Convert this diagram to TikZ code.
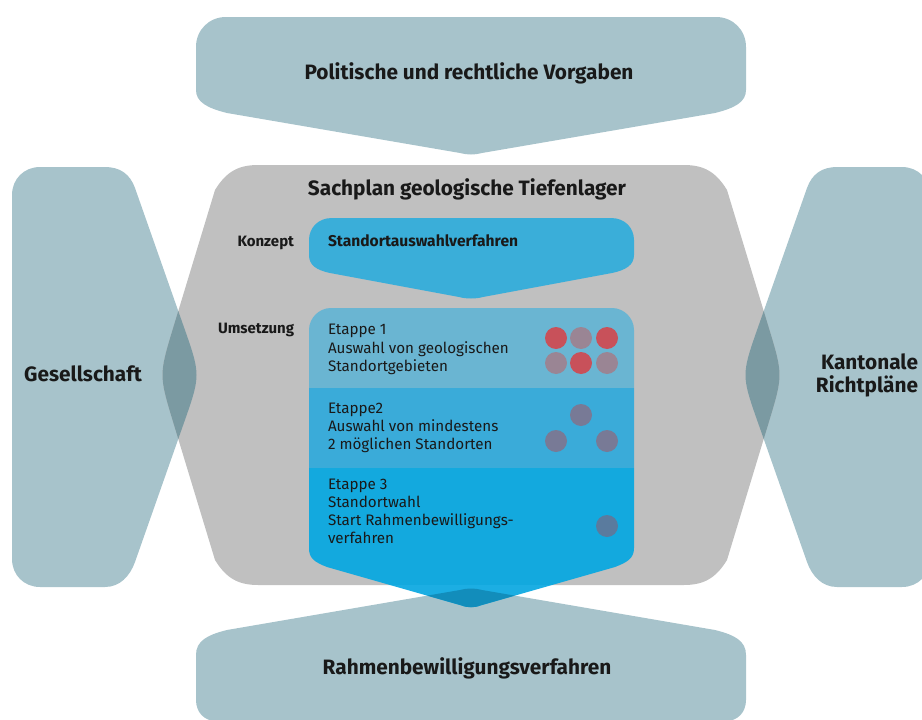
\documentclass[tikz,border=0pt]{standalone}
\usepackage{fontspec}
\setmainfont{Fira Sans}
\begin{document}
\begin{tikzpicture}[x=1pt,y=-1pt,
  every node/.style={inner sep=0pt,outer sep=0pt,text=black!90},
  big/.style={font=\fontsize{20.8}{24}\selectfont\bfseries},
  lab/.style={font=\fontsize{15}{17}\selectfont\bfseries},
  etxt/.style={font=\fontsize{15.2}{17}\selectfont,anchor=base west},
  dot/.style={circle,minimum size=22pt,inner sep=0pt}
]
\definecolor{teal}{HTML}{A7C3CB}
\definecolor{grayc}{HTML}{C0C0C0}
\definecolor{lens}{HTML}{7B9AA2}
\definecolor{band1}{HTML}{6AB5D2}
\definecolor{band2}{HTML}{3AABD9}
\definecolor{band3}{HTML}{13A9DE}
\definecolor{bandw}{HTML}{1CAEE3}
\definecolor{bluedark}{HTML}{128DBB}
\definecolor{konz}{HTML}{3AAED9}
\definecolor{redd}{HTML}{C8515A}
\definecolor{mauve}{HTML}{9A8594}
\definecolor{slate}{HTML}{787A96}
\definecolor{slateb}{HTML}{5A7B9E}
\useasboundingbox (0,0) rectangle (922,720);
\clip (0,0) rectangle (922,720);
% shape paths
\def\topshape{(226,17) -- (716,17) .. controls (733,17) and (746,30) .. (746,47) -- (746,90) .. controls (746,102) and (735,108) .. (715,113) -- (482,153) .. controls (475,155) and (467,155) .. (460,153) -- (227,113) .. controls (207,108) and (196,102) .. (196,90) -- (196,47) .. controls (196,30) and (209,17) .. (226,17) -- cycle}
\def\botshape{(460,590) .. controls (467,588) and (475,588) .. (482,590) -- (715,630) .. controls (735,635) and (746,641) .. (746,655) -- (746,700) .. controls (746,712) and (738,721) .. (726,721) -- (216,721) .. controls (204,721) and (196,712) .. (196,700) -- (196,655) .. controls (196,641) and (207,635) .. (227,630) -- cycle}
\def\gesshape{(40,167) -- (105,167) .. controls (120,167) and (130,174) .. (135,188) -- (186,333) .. controls (200,373) and (200,377) .. (186,417) -- (135,562) .. controls (130,576) and (120,587) .. (105,587) -- (40,587) .. controls (24,587) and (12,575) .. (12,559) -- (12,195) .. controls (12,179) and (24,167) .. (40,167) -- cycle}
\def\kanshape{(902,167) -- (837,167) .. controls (822,167) and (812,174) .. (807,188) -- (756,333) .. controls (742,373) and (742,377) .. (756,417) -- (807,562) .. controls (812,576) and (822,587) .. (837,587) -- (902,587) .. controls (918,587) and (930,575) .. (930,559) -- (930,195) .. controls (930,179) and (918,167) .. (902,167) -- cycle}
\def\grayshape{(258,165) -- (684,165) .. controls (704,165) and (716,172) .. (727,190) -- (770.4,333) .. controls (782.5,373) and (782.5,377) .. (770.4,417) -- (727,560) .. controls (716,578) and (704,585) .. (684,585) -- (258,585) .. controls (238,585) and (226,578) .. (215,560) -- (171.6,417) .. controls (159.5,377) and (159.5,373) .. (171.6,333) -- (215,190) .. controls (226,172) and (238,165) .. (258,165) -- cycle}
\def\stackshape{(309,330) .. controls (309,318) and (319,308) .. (331,308) -- (612,308) .. controls (624,308) and (634,318) .. (634,330) -- (634,548) .. controls (634,558) and (628,562) .. (615,567) -- (482,605) .. controls (475,608) and (467,608) .. (460,605) -- (327,567) .. controls (314,562) and (309,558) .. (309,548) -- cycle}
% teal shapes
\fill[teal] \topshape;
\fill[teal] \botshape;
\fill[teal] \gesshape;
\fill[teal] \kanshape;
% gray
\fill[grayc] \grayshape;
% lenses
\begin{scope}
  \clip \grayshape;
  \fill[lens] \gesshape;
  \fill[lens] \kanshape;
\end{scope}
% Konzept box
\fill[konz] (309,240) .. controls (309,228) and (318,218) .. (332,218) -- (611,218) .. controls (625,218) and (634,228) .. (634,240) -- (634,255) .. controls (634,265) and (626,270) .. (612,273) -- (483,297) .. controls (476,299) and (466,299) .. (459,297) -- (330,273) .. controls (316,270) and (309,265) .. (309,255) -- cycle;
% stack bands
\begin{scope}
  \clip \stackshape;
  \fill[band1] (300,300) rectangle (640,388);
  \fill[band2] (300,388) rectangle (640,468);
  \fill[band3] (300,468) rectangle (640,585);
  \fill[bandw] (300,585) rectangle (640,620);
  \fill[bluedark] \botshape;
\end{scope}
% texts
\node[big,anchor=base] (pol) at (469,79) {Politische und rechtliche Vorgaben};
\node[big,anchor=base] (sach) at (467,195) {Sachplan geologische Tiefenlager};
\node[big,anchor=base] (rahm) at (467,674) {Rahmenbewilligungsverfahren};
\node[big,anchor=base] (ges) at (83,381) {Gesellschaft};
\node[big,anchor=base east] (kan1) at (918,369) {Kantonale};
\node[big,anchor=base east] (kan2) at (918,392) {Richtpläne};
\node[lab,anchor=base east] (konzl) at (294,246) {Konzept};
\node[lab,anchor=base east] (umsl) at (294,333) {Umsetzung};
\node[lab,anchor=base west,font=\fontsize{15.6}{17}\selectfont\bfseries] (saw) at (328,246) {Standortauswahlverfahren};
\node[etxt] (e1a) at (328,334) {Etappe 1};
\node[etxt] (e1b) at (328,353) {Auswahl von geologischen};
\node[etxt] (e1c) at (328,371) {Standortgebieten};
\node[etxt] (e2a) at (328,413) {Etappe2};
\node[etxt] (e2b) at (328,431) {Auswahl von mindestens};
\node[etxt] (e2c) at (328,449) {2 möglichen Standorten};
\node[etxt] (e3a) at (328,489) {Etappe 3};
\node[etxt] (e3b) at (328,507) {Standortwahl};
\node[etxt] (e3c) at (328,525) {Start Rahmenbewilligungs-};
\node[etxt] (e3d) at (328,543) {verfahren};
% dots
\node[dot,fill=redd] (d1) at (556,338) {};
\node[dot,fill=mauve] (d2) at (581,338) {};
\node[dot,fill=redd] (d3) at (607,338) {};
\node[dot,fill=mauve] (d4) at (556,363) {};
\node[dot,fill=redd] (d5) at (581,363) {};
\node[dot,fill=mauve] (d6) at (607,363) {};
\node[dot,fill=slate] (d7) at (581,415) {};
\node[dot,fill=slate] (d8) at (556,441) {};
\node[dot,fill=slate] (d9) at (607,441) {};
\node[dot,fill=slateb] (d10) at (607,526) {};
\end{tikzpicture}
\end{document}
